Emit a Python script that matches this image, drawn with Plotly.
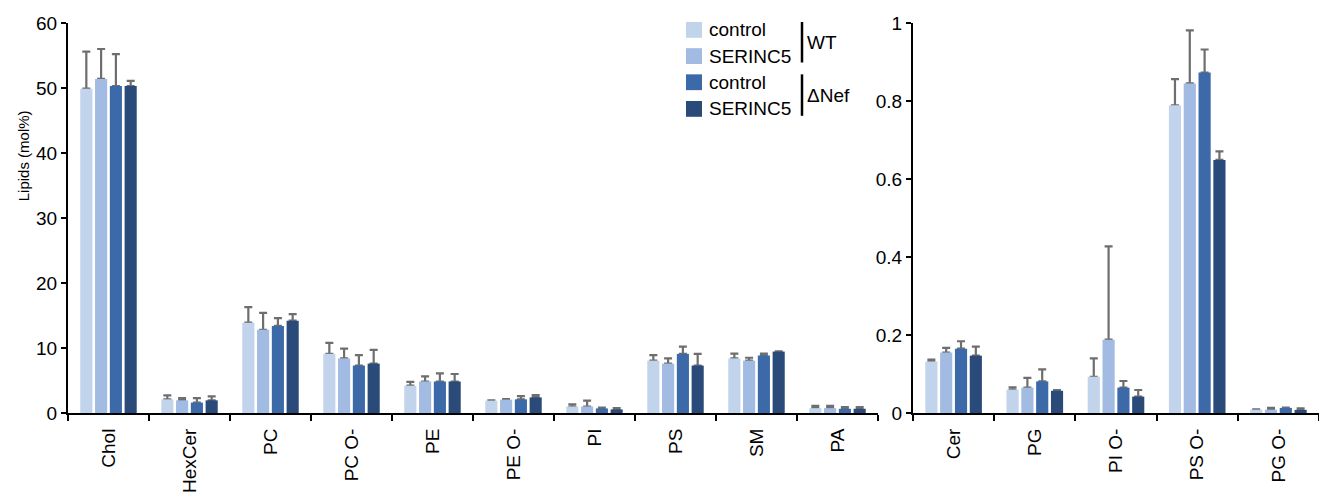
import plotly.graph_objects as go

# ---------------- data ----------------
left_categories = ["Chol", "HexCer", "PC", "PC O-", "PE", "PE O-", "PI", "PS", "SM", "PA"]
right_categories = ["Cer", "PG", "PI O-", "PS O-", "PG O-"]

series_names = ["control", "SERINC5", "control", "SERINC5"]
group_names = ["WT", "ΔNef"]
colors = ["#C2D3EC", "#A2BBE3", "#3C6AA8", "#2A4B7A"]

# left panel (mol %)
wt_control_left = [49.9, 2.1, 13.9, 9.1, 4.2, 1.9, 1.0, 8.05, 8.4, 0.75]
wt_serinc5_left = [51.4, 1.95, 12.8, 8.4, 4.85, 2.05, 1.0, 7.6, 8.05, 0.75]
dnef_control_left = [50.3, 1.6, 13.4, 7.3, 4.85, 2.1, 0.7, 9.1, 8.85, 0.65]
dnef_serinc5_left = [50.3, 1.95, 14.2, 7.6, 4.85, 2.4, 0.55, 7.3, 9.45, 0.65]

wt_control_left_sd = [5.7, 0.6, 2.4, 1.7, 0.6, 0.05, 0.35, 0.85, 0.75, 0.35]
wt_serinc5_left_sd = [4.6, 0.35, 2.6, 1.5, 0.8, 0.1, 0.9, 0.8, 0.45, 0.35]
dnef_control_left_sd = [4.9, 0.7, 1.2, 1.6, 1.25, 0.5, 0.15, 1.1, 0.3, 0.25]
dnef_serinc5_left_sd = [0.8, 0.6, 1.0, 2.1, 1.15, 0.35, 0.2, 1.8, 0.05, 0.25]

# right panel (mol %)
wt_control_right = [0.132, 0.060, 0.093, 0.789, 0.0085]
wt_serinc5_right = [0.155, 0.065, 0.188, 0.845, 0.0085]
dnef_control_right = [0.165, 0.081, 0.065, 0.873, 0.013]
dnef_serinc5_right = [0.147, 0.057, 0.042, 0.649, 0.008]

wt_control_right_sd = [0.005, 0.006, 0.047, 0.067, 0.001]
wt_serinc5_right_sd = [0.012, 0.025, 0.239, 0.136, 0.0045]
dnef_control_right_sd = [0.019, 0.031, 0.017, 0.059, 0.001]
dnef_serinc5_right_sd = [0.023, 0.002, 0.017, 0.022, 0.004]

left_y_ticks = [0, 10, 20, 30, 40, 50, 60]
right_y_ticks = [0, 0.2, 0.4, 0.6, 0.8, 1]
right_y_ticktext = ["0", "0.2", "0.4", "0.6", "0.8", "1"]
y_title = "Lipids (mol%)"

# ---------------- layout geometry ----------------
W, H = 1319, 493
ML, MR, MT, MB = 68, 0, 23, 75
PW, PH = W - ML - MR, H - MT - MB


def px2x(px):
    return (px - ML) / PW


def py2y(py):
    return (H - MB - py) / PH


ERR_COLOR = "#6E6E6E"
FONT = "Liberation Sans, Arial, sans-serif"

fig = go.Figure()

panels = [
    (left_categories,
     [wt_control_left, wt_serinc5_left, dnef_control_left, dnef_serinc5_left],
     [wt_control_left_sd, wt_serinc5_left_sd, dnef_control_left_sd, dnef_serinc5_left_sd],
     "x", "y", "y3"),
    (right_categories,
     [wt_control_right, wt_serinc5_right, dnef_control_right, dnef_serinc5_right],
     [wt_control_right_sd, wt_serinc5_right_sd, dnef_control_right_sd, dnef_serinc5_right_sd],
     "x2", "y2", "y4"),
]

for cats, vals, sds, xa, ya_err, ya_bar in panels:
    # error bars (drawn underneath, on the base subplot)
    for i in range(4):
        fig.add_trace(go.Bar(
            x=cats, y=vals[i], xaxis=xa, yaxis=ya_err,
            marker=dict(color="rgba(0,0,0,0)", line=dict(width=0)),
            error_y=dict(type="data", array=sds[i], arrayminus=[0] * len(cats),
                         symmetric=False, color=ERR_COLOR, thickness=2.2, width=4),
            showlegend=False, hoverinfo="skip",
        ))
    # bars (drawn on the overlaying subplot so they hide the lower cap)
    for i in range(4):
        fig.add_trace(go.Bar(
            x=cats, y=vals[i], xaxis=xa, yaxis=ya_bar,
            marker=dict(color=colors[i], line=dict(width=0)),
            name=f"{series_names[i]} {group_names[i // 2]}",
            showlegend=False,
        ))

xaxis_common = dict(
    type="category", showline=True, linecolor="black", linewidth=2,
    ticks="outside", tickson="boundaries", ticklen=6, tickwidth=2, tickcolor="black",
    tickangle=-90, ticklabelstandoff=6,
    tickfont=dict(size=19, color="black", family=FONT),
    showgrid=False, zeroline=False, fixedrange=True,
)
yaxis_common = dict(
    showline=True, linecolor="black", linewidth=2,
    ticks="outside", ticklen=5, tickwidth=2, tickcolor="black",
    tickfont=dict(size=19, color="black", family=FONT),
    showgrid=False, zeroline=False, fixedrange=True,
)

fig.update_layout(
    width=W, height=H,
    margin=dict(l=ML, r=MR, t=MT, b=MB, pad=0),
    paper_bgcolor="white", plot_bgcolor="white",
    barmode="group", bargap=0.27, bargroupgap=0.18,
    font=dict(family=FONT, color="black"),
    showlegend=False,
    xaxis=dict(domain=[0, px2x(878)], range=[-0.5, len(left_categories) - 0.5],
               anchor="y", **xaxis_common),
    yaxis=dict(domain=[0, 1], range=[0, 60], tickvals=left_y_ticks, anchor="x",
               **yaxis_common),
    yaxis3=dict(overlaying="y", range=[0, 60], visible=False, anchor="x",
                fixedrange=True),
    xaxis2=dict(domain=[px2x(913), 1], range=[-0.5, len(right_categories) - 0.5],
                anchor="y2", **xaxis_common),
    yaxis2=dict(domain=[0, 1], range=[0, 1], tickvals=right_y_ticks,
                ticktext=right_y_ticktext, anchor="x2", **yaxis_common),
    yaxis4=dict(overlaying="y2", range=[0, 1], visible=False, anchor="x2",
                fixedrange=True),
)

# ---------------- custom legend ----------------
shapes = []
annotations = []
row_centers = [30, 56.5, 83, 110]
for i, cy in enumerate(row_centers):
    shapes.append(dict(type="rect", xref="paper", yref="paper",
                       x0=px2x(686), x1=px2x(702), y0=py2y(cy + 8), y1=py2y(cy - 8),
                       fillcolor=colors[i], line=dict(width=0)))
    annotations.append(dict(xref="paper", yref="paper", x=px2x(707), y=py2y(cy),
                            text=series_names[i], showarrow=False,
                            xanchor="left", yanchor="middle",
                            font=dict(size=19, color="black", family=FONT)))

brackets = [(22, 63), (75, 117)]
for g, (y0, y1) in enumerate(brackets):
    shapes.append(dict(type="line", xref="paper", yref="paper",
                       x0=px2x(802), x1=px2x(802), y0=py2y(y0), y1=py2y(y1),
                       line=dict(color="black", width=2.5)))
    annotations.append(dict(xref="paper", yref="paper", x=px2x(805), y=py2y((y0 + y1) / 2),
                            text=group_names[g], showarrow=False,
                            xanchor="left", yanchor="middle",
                            font=dict(size=19, color="black", family=FONT)))

# y-axis title
annotations.append(dict(xref="paper", yref="paper", x=px2x(23), y=py2y(158),
                        text=y_title, textangle=-90, showarrow=False,
                        xanchor="center", yanchor="middle",
                        font=dict(size=15, color="black", family=FONT)))

fig.update_layout(shapes=shapes, annotations=annotations)

fig.write_html(
    "out.html",
    config={"displayModeBar": False},
    post_script="document.body.style.margin='0';document.body.style.overflow='hidden';",
)
